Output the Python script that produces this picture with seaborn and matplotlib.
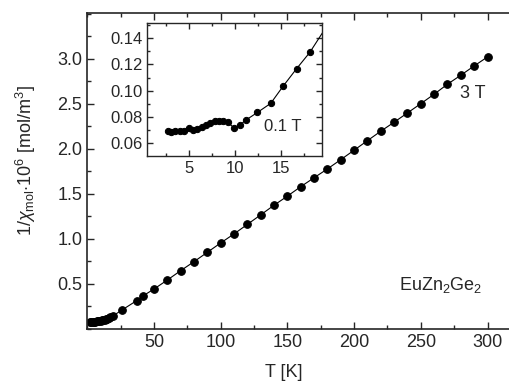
import numpy as np
import pandas as pd
import seaborn as sns
import matplotlib
matplotlib.use("Agg")
import matplotlib.pyplot as plt
from matplotlib.ticker import MultipleLocator

# Datos 3 T (curva principal)
T_3T = [2, 3, 4, 5, 6, 7, 8, 9, 10, 11, 12, 13, 14, 15, 16, 17, 19.5, 26, 37, 42,
        50, 60, 70, 80, 90, 100, 110, 120, 130, 140, 150, 160, 170, 180, 190,
        200, 210, 220, 230, 240, 250, 260, 270, 280, 290, 300]
inv_chi_3T = [0.080, 0.080, 0.081, 0.082, 0.083, 0.085, 0.087, 0.089, 0.092, 0.095,
              0.099, 0.103, 0.108, 0.114, 0.120, 0.128, 0.148, 0.211, 0.315, 0.370,
              0.444, 0.544, 0.648, 0.748, 0.852, 0.956, 1.056, 1.162, 1.268, 1.375,
              1.476, 1.581, 1.680, 1.778, 1.881, 1.986, 2.092, 2.197, 2.297, 2.400,
              2.503, 2.608, 2.719, 2.819, 2.922, 3.022]

# Datos 0.1 T (inserto)
T_01T = [2.7, 3.1, 3.55, 4.0, 4.5, 5.0, 5.45, 5.95, 6.4, 6.9, 7.35, 7.8, 8.25, 8.75,
         9.25, 9.9, 10.55, 11.2, 12.45, 13.9, 15.25, 16.7, 18.15, 20.5]
inv_chi_01T = [0.0692, 0.0684, 0.0687, 0.0687, 0.0690, 0.0710, 0.0697, 0.0703, 0.0720,
               0.0738, 0.0753, 0.0764, 0.0769, 0.0766, 0.0756, 0.0715, 0.0736, 0.0774,
               0.0832, 0.0902, 0.1034, 0.1167, 0.1293, 0.1550]

sns.set_style("ticks")
plt.rcParams["font.family"] = ["Liberation Sans", "DejaVu Sans"]
plt.rcParams["mathtext.fontset"] = "custom"
plt.rcParams["mathtext.rm"] = "Liberation Sans"
plt.rcParams["mathtext.it"] = "Liberation Sans:italic"

W, H = 510, 381
fig = plt.figure(figsize=(W / 100, H / 100), dpi=100)

# Ejes principales (el borde derecho queda fuera de la imagen)
x_max = 332
ax_w = x_max * 1.334
ax = fig.add_axes([87.3 / W, 1 - 329 / H, ax_w / W, 316 / H])
sns.lineplot(x=T_3T, y=inv_chi_3T, ax=ax, color="k", linewidth=0.8, marker="o",
             markersize=5.5, markeredgecolor="k", sort=True)
ax.set_xlim(0, x_max)
ax.set_ylim(0, 3.51)
ax.set_xticks([50, 100, 150, 200, 250, 300])
ax.set_yticks([0.5, 1.0, 1.5, 2.0, 2.5, 3.0])
ax.xaxis.set_minor_locator(MultipleLocator(25))
ax.yaxis.set_minor_locator(MultipleLocator(0.25))
ax.tick_params(which="both", direction="in", top=True, right=True, labelsize=13, width=1)
ax.tick_params(which="major", length=5)
ax.tick_params(which="minor", length=3)
for s in ax.spines.values():
    s.set_linewidth(1.2)
ax.set_xlabel("T [K]", fontsize=13)
ax.set_ylabel(r"1/$\chi_{\rm mol}$$\cdot$10$^6$ [mol/m$^3$]", fontsize=13)
ax.xaxis.set_label_coords((284 - 87.3) / ax_w, -(364 - 329) / 316)
ax.yaxis.set_label_coords(-(87.3 - 38) / ax_w, (329 - 161) / 316)

fig.text(473 / W, 1 - 93 / H, "3 T", fontsize=13, ha="center", va="center")
fig.text(441 / W, 1 - 285 / H, r"EuZn$_2$Ge$_2$", fontsize=13, ha="center", va="center")

# Inserto
axi = fig.add_axes([147.3 / W, 1 - 155.7 / H, 175 / W, 133 / H])
sns.lineplot(x=T_01T, y=inv_chi_01T, ax=axi, color="k", linewidth=0.8, marker="o",
             markersize=4.5, markeredgecolor="k", sort=True)
axi.set_xlim(0.5, 19.5)
axi.set_ylim(0.0501, 0.152)
axi.set_xticks([5, 10, 15])
axi.set_yticks([0.06, 0.08, 0.10, 0.12, 0.14])
axi.set_yticklabels(["0.06", "0.08", "0.10", "0.12", "0.14"])
axi.xaxis.set_minor_locator(MultipleLocator(2.5))
axi.yaxis.set_minor_locator(MultipleLocator(0.01))
axi.tick_params(which="both", direction="in", top=True, right=True, labelsize=12, width=1)
axi.tick_params(which="major", length=4)
axi.tick_params(which="minor", length=2.5)
for s in axi.spines.values():
    s.set_linewidth(1.0)
fig.text(283 / W, 1 - 127 / H, "0.1 T", fontsize=12, ha="center", va="center")

fig.savefig("out.png", dpi=100)
